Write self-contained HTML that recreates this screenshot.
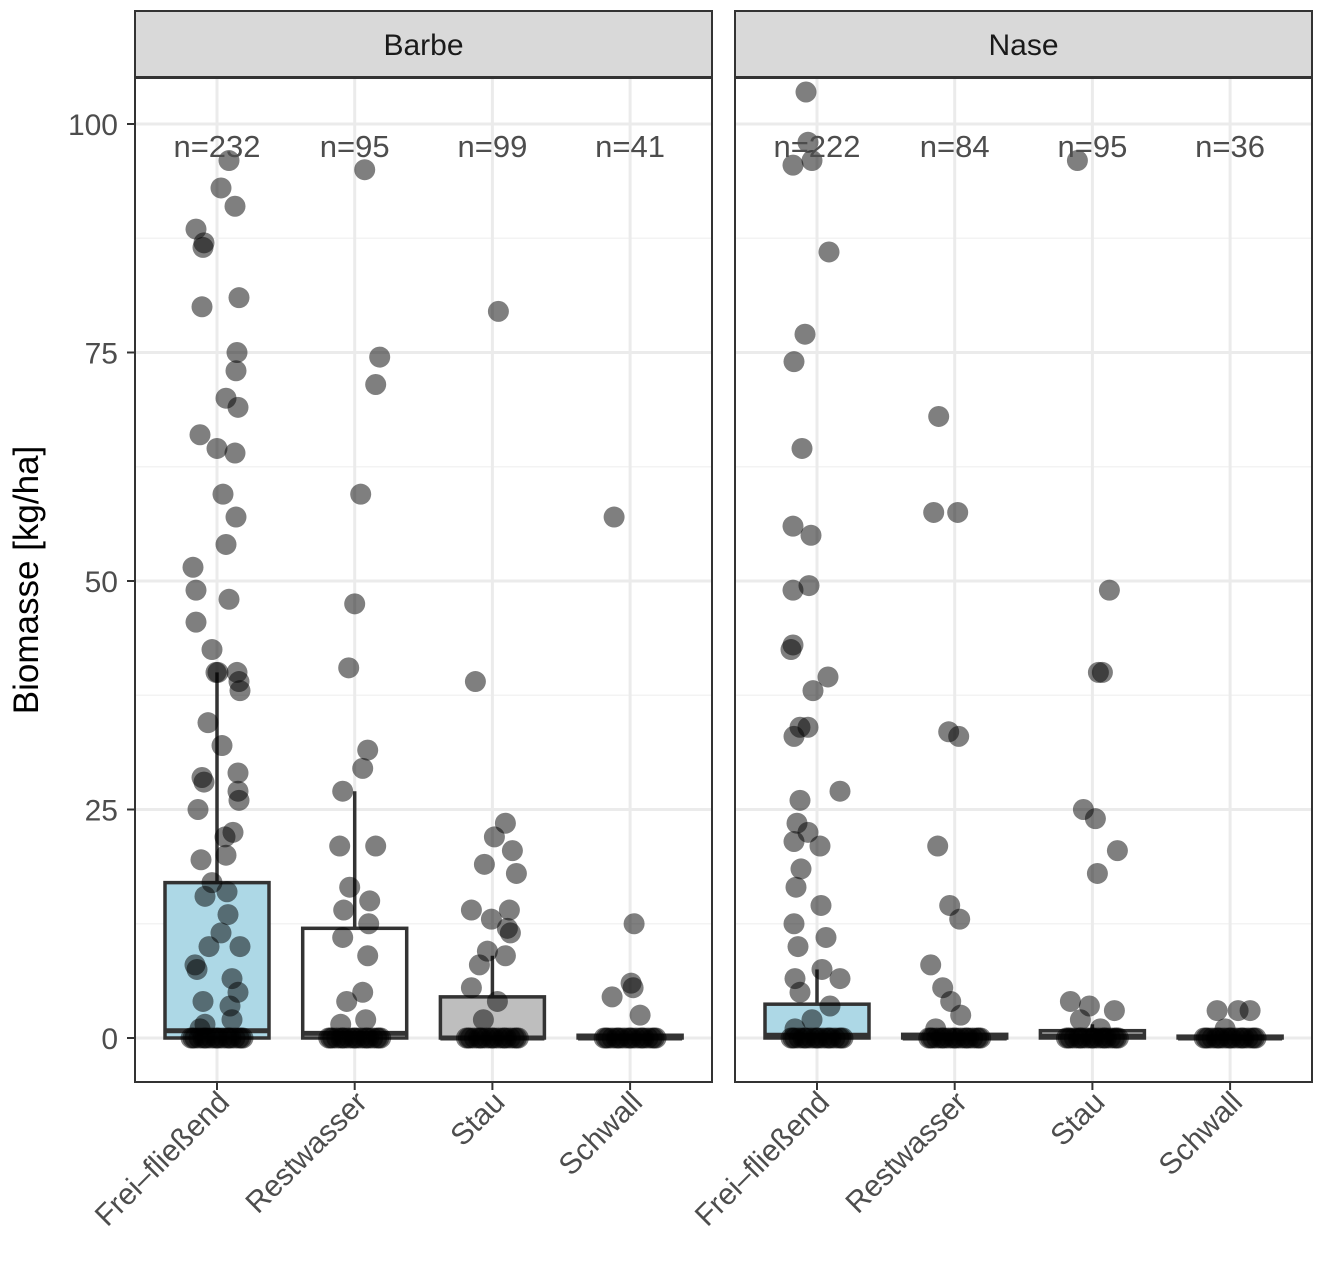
<!DOCTYPE html>
<html><head><meta charset="utf-8"><style>
body{margin:0;background:#fff}
svg{display:block;font-family:"Liberation Sans",Arial,sans-serif}
</style></head><body>
<svg id="chart" width="1323" height="1266" viewBox="0 0 1323 1266"></svg>
<script>
const facets = ["Barbe","Nase"];
const categories = ["Frei–fließend","Restwasser","Stau","Schwall"];
const counts = [[232,95,99,41],[222,84,95,36]];
const boxQ3 = [[17,12,4.5,0.3],[3.7,0.4,0.8,0.2]];
const boxMedian = [[0.8,0.5,0,0],[0.3,0,0.2,0]];
const whiskerHigh = [[40,27,9,0.5],[7.5,1,1.5,0.3]];
const boxFills = ["#ADD8E6","#FFFFFF","#BEBEBE","#FFFFFF"];
const yTicks = [0,25,50,75,100];
// points: [value, x-offset from category centre in px]
const points = [
 [[[96,12],[93,4],[91,18],[88.5,-21],[87,-13],[86.5,-14],[81,22],[80,-15],[75,20],[73,19],[70,9],[69,21],[66,-17],[64.5,0],[64,18],[59.5,6],[57,19],[54,9],[51.5,-24],[49,-21],[48,12],[45.5,-21],[42.5,-5],[40,-1],[40,1],[40,20],[39,22],[38,23],[34.5,-9],[32,5],[29,21],[28.5,-15],[28,-13],[27,21],[26,22],[25,-19],[22.5,16],[22,8],[20,9],[19.5,-16],[17,-5],[16,10],[15.5,-12],[13.5,11],[11.5,4],[10,-8],[10,23],[8,-22],[7.5,-20],[6.5,15],[5,21],[4,-14],[3.5,13],[2,15],[1.5,-12],[1,-17]],
  [[95,10],[74.5,25],[71.5,21],[59.5,6],[47.5,0],[40.5,-6],[31.5,13],[29.5,8],[27,-12],[21,-15],[21,21],[16.5,-5],[15,15],[14,-11],[12.5,14],[11,-12],[9,13],[5,8],[4,-8],[2,11],[1.5,-14]],
  [[79.5,6],[39,-17],[23.5,13],[22,2],[20.5,20],[19,-8],[18,24],[14,-21],[14,17],[13,-1],[12,15],[11.5,18],[9.5,-5],[9,13],[8,-13],[5.5,-21],[4,5],[2,-9]],
  [[57,-16],[12.5,4],[6,1],[5.5,3],[4.5,-18],[2.5,10]]],
 [[[103.5,-11],[98,-9],[96,-5],[95.5,-24],[86,12],[77,-12],[74,-23],[64.5,-15],[56,-24],[55,-6],[49.5,-8],[49,-24],[43,-24],[42.5,-26],[39.5,11],[38,-4],[34,-17],[34,-9],[33,-23],[27,23],[26,-17],[23.5,-20],[22.5,-9],[21.5,-23],[21,3],[18.5,-16],[16.5,-21],[14.5,4],[12.5,-23],[11,9],[10,-19],[7.5,5],[6.5,-22],[6.5,23],[5,-17],[3.5,13],[2,-5],[1,-22]],
  [[68,-16],[57.5,-21],[57.5,3],[33.5,-6],[33,4],[21,-17],[14.5,-5],[13,5],[8,-24],[5.5,-12],[4,-4],[2.5,6],[1,-19]],
  [[96,-15],[49,17],[40,6],[40,10],[25,-9],[24,3],[20.5,25],[18,5],[4,-22],[3.5,-3],[3,22],[2,-12],[1,8]],
  [[3,-13],[3,8],[3,20],[1,-5]]]
];
const zeroOffsets = [-26,-22,-18,-14,-10,-6,-2,2,6,10,14,18,22,26,-24,-12,0,12,24];

const NS="http://www.w3.org/2000/svg";
const svg=document.getElementById('chart');
function el(tag,attrs,parent){const e=document.createElementNS(NS,tag);for(const k in attrs)e.setAttribute(k,attrs[k]);(parent||svg).appendChild(e);return e;}
const panelX=[135,735], panelW=577, panelTop=78, panelBot=1082;
const y=v=>1038-v*9.14;
const xc=(p,i)=>panelX[p]+82+i*137.7;

facets.forEach((f,p)=>{
 const g=el('g',{});
 
 
 for(let v=12.5;v<=100;v+=25){const l=el('line',{x1:panelX[p],x2:panelX[p]+panelW,y1:y(v),y2:y(v),stroke:'#F3F3F3','stroke-width':1.5},g);}
 yTicks.forEach(v=>{const l=el('line',{x1:panelX[p],x2:panelX[p]+panelW,y1:y(v),y2:y(v),stroke:'#EBEBEB','stroke-width':3},g);});
 categories.forEach((c,i)=>{const l=el('line',{x1:xc(p,i),x2:xc(p,i),y1:panelTop,y2:panelBot,stroke:'#EBEBEB','stroke-width':3},g);});
 categories.forEach((c,i)=>{
  const cx=xc(p,i);
  const w=el('line',{x1:cx,x2:cx,y1:y(boxQ3[p][i]),y2:y(whiskerHigh[p][i]),stroke:'#333','stroke-width':3.5},g);
  
  const r=el('rect',{x:cx-52,y:y(boxQ3[p][i]),width:104,height:Math.max(y(0)-y(boxQ3[p][i]),1),fill:boxFills[i],stroke:'#333','stroke-width':3.5},g);
  
  const m=el('line',{x1:cx-52,x2:cx+52,y1:y(boxMedian[p][i]),y2:y(boxMedian[p][i]),stroke:'#333','stroke-width':5},g);
  
 });
 categories.forEach((c,i)=>{
  const cx=xc(p,i);
  zeroOffsets.forEach(o=>{const d=el('circle',{cx:cx+o,cy:y(0),r:10.5,fill:'#000','fill-opacity':0.5},g);});
  points[p][i].forEach(([v,o])=>{const d=el('circle',{cx:cx+o,cy:y(v),r:10.5,fill:'#000','fill-opacity':0.5},g);});
  const t=el('text',{x:cx,y:157,'text-anchor':'middle','font-size':31,fill:'#4D4D4D'},g);t.textContent='n='+counts[p][i];
  
  const tk=el('line',{x1:cx,x2:cx,y1:panelBot,y2:panelBot+8,stroke:'#333','stroke-width':2},g);
  
  const xl=el('text',{transform:`translate(${cx+14},${panelBot+22}) rotate(-45)`,'text-anchor':'end','font-size':30,fill:'#4D4D4D'},g);xl.textContent=c;
  
 });
 const b=el('rect',{x:panelX[p],y:panelTop,width:panelW,height:panelBot-panelTop,fill:'none',stroke:'#333','stroke-width':2},g);
 
 const s=el('rect',{x:panelX[p],y:11,width:panelW,height:66,fill:'#D9D9D9',stroke:'#333','stroke-width':2},g);
 
 const st=el('text',{x:panelX[p]+panelW/2,y:55,'text-anchor':'middle','font-size':30,fill:'#1A1A1A'},g);st.textContent=f;
 
});
yTicks.forEach(v=>{
 const t=el('text',{x:118,y:y(v)+11,'text-anchor':'end','font-size':30,fill:'#4D4D4D'});t.textContent=v;
 
 const l=el('line',{x1:127,x2:135,y1:y(v),y2:y(v),stroke:'#333','stroke-width':2});
 
});
const yt=el('text',{transform:'translate(38,580) rotate(-90)','text-anchor':'middle','font-size':35,fill:'#000'});
yt.textContent='Biomasse [kg/ha]';

</script>
</body></html>
